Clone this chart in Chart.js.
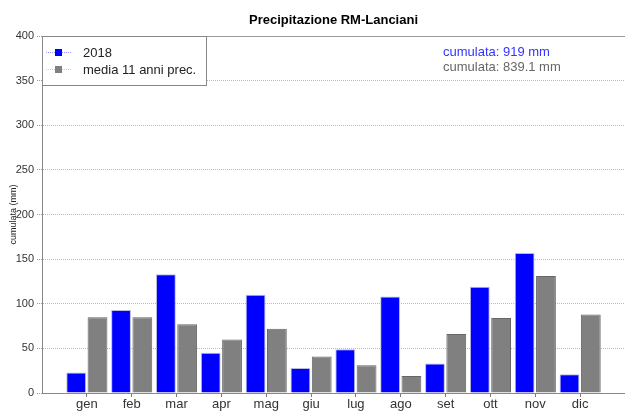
<!DOCTYPE html>
<html>
<head>
<meta charset="utf-8">
<script src="https://cdn.jsdelivr.net/npm/chart.js@4/dist/chart.umd.min.js"></script>
<style>
  html, body { margin: 0; padding: 0; background: #fff; }
  #wrap { width: 625px; height: 412px; position: relative; }
</style>
</head>
<body>
<div id="wrap"><canvas id="chart"></canvas></div>
<script>
// data
const months = ['gen', 'feb', 'mar', 'apr', 'mag', 'giu', 'lug', 'ago', 'set', 'ott', 'nov', 'dic'];
const rain2018 = [23, 93, 133, 45, 110, 28, 49, 108, 33, 119, 157, 21];
const rainAvg = [85, 85, 77, 60, 72, 41, 31, 19, 66, 84, 131, 88];
const seriesNames = ['2018', 'media 11 anni prec.'];
const totals = ['cumulata: 919 mm', 'cumulata: 839.1 mm'];
const yTicks = [0, 50, 100, 150, 200, 250, 300, 350, 400];

const FONT = "'Liberation Sans', Arial, sans-serif";
const BLUE = '#0000ff';
const GREY = '#808080';

// blank slots on both ends give the extra gap either side of the months
const labels = [''].concat(months, ['']);
const pad = arr => [null].concat(arr, [null]);

const overlay = {
  id: 'overlay',
  afterDraw(chart) {
    const { ctx, chartArea: a } = chart;
    ctx.save();
    // solid top border
    ctx.strokeStyle = '#999';
    ctx.lineWidth = 1;
    ctx.beginPath();
    ctx.moveTo(a.left, a.top + 0.5);
    ctx.lineTo(a.right, a.top + 0.5);
    ctx.stroke();

    // title
    ctx.fillStyle = '#000';
    ctx.font = 'bold 13px ' + FONT;
    ctx.textAlign = 'center';
    ctx.textBaseline = 'middle';
    ctx.fillText('Precipitazione RM-Lanciani', (a.left + a.right) / 2, 20);

    // legend box
    const bx = a.left, by = a.top, bw = 164, bh = 49;
    ctx.fillStyle = '#fff';
    ctx.fillRect(bx, by, bw, bh);
    ctx.strokeStyle = '#888';
    ctx.strokeRect(bx + 0.5, by + 0.5, bw, bh);
    const cols = [BLUE, GREY];
    const lineCols = ['#9999ff', '#cccccc'];
    seriesNames.forEach((name, i) => {
      const y = by + 16 + i * 17;
      ctx.strokeStyle = lineCols[i];
      ctx.setLineDash([1, 1]);
      ctx.beginPath();
      ctx.moveTo(bx + 4, y + 0.5);
      ctx.lineTo(bx + 30, y + 0.5);
      ctx.stroke();
      ctx.setLineDash([]);
      ctx.fillStyle = cols[i];
      ctx.fillRect(bx + 13, y - 3, 7, 7);
      ctx.fillStyle = '#222';
      ctx.font = '13px ' + FONT;
      ctx.textAlign = 'left';
      ctx.textBaseline = 'middle';
      ctx.fillText(name, bx + 41, y + 1);
    });

    // cumulative totals
    ctx.font = '13px ' + FONT;
    ctx.textAlign = 'left';
    ctx.fillStyle = '#3333ff';
    ctx.fillText(totals[0], 443, 52);
    ctx.fillStyle = '#666';
    ctx.fillText(totals[1], 443, 67);
    ctx.restore();
  }
};

new Chart(document.getElementById('chart'), {
  type: 'bar',
  plugins: [overlay],
  data: {
    labels: labels,
    datasets: [
      {
        label: seriesNames[0],
        data: pad(rain2018),
        backgroundColor: BLUE,
        borderColor: '#bbbbdd',
        borderWidth: 1,
      },
      {
        label: seriesNames[1],
        data: pad(rainAvg),
        backgroundColor: GREY,
        borderColor: '#666',
        borderWidth: 1,
      },
    ],
  },
  options: {
    responsive: true,
    maintainAspectRatio: false,
    animation: false,
    layout: { padding: { top: 36, right: 0, left: 0, bottom: 0 } },
    datasets: { bar: { categoryPercentage: 0.95, barPercentage: 0.93 } },
    plugins: {
      legend: { display: false },
      title: { display: false },
      tooltip: { enabled: false },
    },
    scales: {
      x: {
        offset: false,
        grid: {
          offset: false,
          drawOnChartArea: false,
          drawTicks: true,
          tickLength: 4,
          tickColor: ctx => (ctx.index === 0 || ctx.index === labels.length - 1 ? 'rgba(0,0,0,0)' : '#777'),
        },
        border: { color: '#888' },
        ticks: {
          autoSkip: false,
          maxRotation: 0,
          padding: 0,
          color: '#333',
          font: { family: FONT, size: 13 },
        },
        afterFit: s => { s.height = 19; },
      },
      y: {
        min: 0,
        max: 400,
        afterBuildTicks: s => { s.ticks = yTicks.map(v => ({ value: v })); },
        grid: {
          color: '#bbb',
          tickColor: '#999',
          tickLength: 5,
          tickBorderDash: [1, 1],
        },
        border: { color: '#888', dash: [1, 1] },
        ticks: {
          padding: 3,
          color: '#333',
          font: { family: FONT, size: 11 },
        },
        title: {
          display: true,
          text: 'cumulata (mm)',
          color: '#222',
          font: { family: FONT, size: 9 },
          padding: { top: 8, bottom: 0 },
        },
        afterFit: s => { s.width = 42; },
      },
    },
  },
});
</script>
</body>
</html>
